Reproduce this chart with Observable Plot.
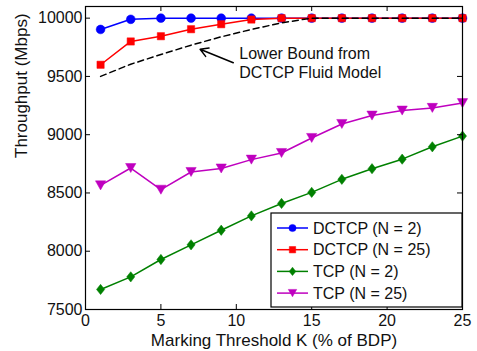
<!DOCTYPE html>
<html><head><meta charset="utf-8">
<script src="https://cdn.jsdelivr.net/npm/d3@7"></script>
<script src="https://cdn.jsdelivr.net/npm/@observablehq/plot@0.6"></script>
<style>html,body{margin:0;padding:0;background:#fff;}</style>
</head><body><div id="chart"></div>
<script>
// ---- data ----
const K = [1, 3, 5, 7, 9, 11, 13, 15, 17, 19, 21, 23, 25];
const dctcpN2  = [9903, 9990, 10000, 10000, 10000, 10000, 10000, 10000, 10000, 10000, 10000, 10000, 10000];
const dctcpN25 = [9600, 9800, 9845, 9905, 9948, 9988, 10000, 10000, 10000, 10000, 10000, 10000, 10000];
const tcpN2    = [7672, 7780, 7929, 8055, 8180, 8303, 8410, 8505, 8617, 8708, 8790, 8896, 8988];
const tcpN25   = [8565, 8714, 8528, 8680, 8710, 8786, 8843, 8972, 9092, 9164, 9207, 9230, 9271];
const lowerBound = [9500, 9605, 9688, 9768, 9840, 9903, 9960, 10000, 10000, 10000, 10000, 10000, 10000];
const seriesNames = ["DCTCP (N = 2)", "DCTCP (N = 25)", "TCP (N = 2)", "TCP (N = 25)"];
const xTicks = [0, 5, 10, 15, 20, 25];
const yTicks = [7500, 8000, 8500, 9000, 9500, 10000];

// ---- styles ----
const W = 477, H = 351;
const M = {top: 6, right: 15, bottom: 42, left: 85};
const PW = W - M.left - M.right, PH = H - M.top - M.bottom;
const FONT = "'Liberation Sans', Arial, Helvetica, sans-serif";
const colors = ["#0000ff", "#ff0000", "#008000", "#bf00bf"];

const circleSym = {draw(c, size) { const r = Math.sqrt(size / Math.PI); c.moveTo(r, 0); c.arc(0, 0, r, 0, 2 * Math.PI); c.closePath(); }};
const squareSym = {draw(c, size) { const h = Math.sqrt(size) / 2; c.rect(-h, -h, 2 * h, 2 * h); }};
const diamondSym = {draw(c, size) { const s = Math.sqrt(size); const w = 0.52 * s, h = 0.66 * s; c.moveTo(0, -h); c.lineTo(w, 0); c.lineTo(0, h); c.lineTo(-w, 0); c.closePath(); }};
const triDownSym = {draw(c, size) { const s = Math.sqrt(size); const w = 0.66 * s, h = 0.58 * s; c.moveTo(-w, -h); c.lineTo(w, -h); c.lineTo(0, h); c.closePath(); }};
const symbols = [circleSym, squareSym, diamondSym, triDownSym];
const radii = [4.4, 4.1, 4.4, 4.4];

const valuesList = [dctcpN2, dctcpN25, tcpN2, tcpN25];
const rows = valuesList.map((vals) => K.map((k, i) => ({k, v: vals[i]})));
const boundRows = K.map((k, i) => ({k, v: lowerBound[i]}));

const marks = [];
rows.forEach((data, s) => {
  marks.push(Plot.line(data, {x: "k", y: "v", stroke: colors[s], strokeWidth: 1.5}));
  marks.push(Plot.dot(data, {x: "k", y: "v", fill: colors[s], stroke: colors[s], strokeWidth: 0.5, symbol: symbols[s], r: radii[s]}));
});
marks.push(Plot.line(boundRows, {x: "k", y: "v", stroke: "black", strokeWidth: 1.5, strokeDasharray: "6,4"}));

// annotation
marks.push(Plot.arrow([{x1: 9.8, y1: 9617, x2: 7.6, y2: 9733}], {x1: "x1", y1: "y1", x2: "x2", y2: "y2", stroke: "black", strokeWidth: 1.5, headLength: 9, bend: 0}));
marks.push(Plot.text([{x: 10.2, y: 9620}], {x: "x", y: "y", text: () => "Lower Bound from\nDCTCP Fluid Model", textAnchor: "start", lineAnchor: "middle", lineHeight: 1.15, fontSize: 16, fill: "#111"}));

// ticks pointing inward on all four sides
marks.push(Plot.tickX(xTicks, {x: d => d, stroke: "black", insetTop: PH - 5}));
marks.push(Plot.tickX(xTicks, {x: d => d, stroke: "black", insetBottom: PH - 5}));
marks.push(Plot.tickY(yTicks, {y: d => d, stroke: "black", insetRight: PW - 5}));
marks.push(Plot.tickY(yTicks, {y: d => d, stroke: "black", insetLeft: PW - 5}));
marks.push(Plot.axisX({ticks: xTicks, tickSize: 0, tickPadding: 5, fontSize: 16, label: null, fill: "#111"}));
marks.push(Plot.axisY({ticks: yTicks, tickSize: 0, tickPadding: 3, fontSize: 16, label: null, tickFormat: d => String(d), fill: "#111"}));
marks.push(Plot.frame({stroke: "black", strokeWidth: 1.2}));
marks.push(Plot.text(["Marking Threshold K (% of BDP)"], {frameAnchor: "bottom", dy: 31, fontSize: 17, lineAnchor: "middle", fill: "#111"}));
marks.push(Plot.text(["Throughput (Mbps)"], {frameAnchor: "left", dx: -64, rotate: -90, fontSize: 17, lineAnchor: "middle", fill: "#111"}));

const plot = Plot.plot({
  width: W, height: H,
  marginTop: M.top, marginRight: M.right, marginBottom: M.bottom, marginLeft: M.left,
  style: {fontFamily: FONT, fontSize: "16px", background: "#fff", overflow: "visible"},
  x: {domain: [0, 25]},
  y: {domain: [7500, 10100]},
  marks
});

// legend (inside the plot area, lower right)
const svg = d3.select(plot);
const lg = svg.append("g").attr("font-family", FONT).attr("font-size", 16).attr("text-anchor", "start");
const bx = 271, by = 213, bw = 462 - 271, bh = 307 - 213;
lg.append("rect").attr("x", bx).attr("y", by).attr("width", bw).attr("height", bh).attr("fill", "white").attr("stroke", "black").attr("stroke-width", 1.2);
seriesNames.forEach((name, i) => {
  const cy = 228 + i * 21.7;
  lg.append("line").attr("x1", 277).attr("x2", 308).attr("y1", cy).attr("y2", cy).attr("stroke", colors[i]).attr("stroke-width", 1.5);
  lg.append("path").attr("transform", `translate(292.5,${cy})`).attr("d", d3.symbol(symbols[i], Math.PI * 3.6 * 3.6)()).attr("fill", colors[i]).attr("stroke", colors[i]).attr("stroke-width", 0.5);
  lg.append("text").attr("x", 313).attr("y", cy).attr("dy", "0.36em").attr("text-anchor", "start").attr("fill", "#111").text(name);
});

document.getElementById("chart").appendChild(plot);
</script>
</body></html>
